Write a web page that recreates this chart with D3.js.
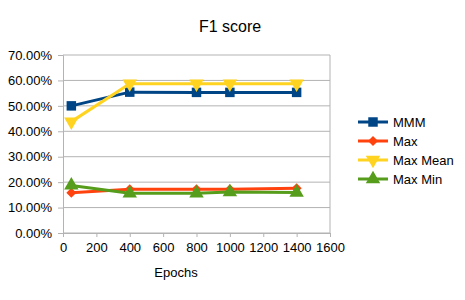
<!DOCTYPE html>
<html lang="en">
<head>
<meta charset="UTF-8">
<title>F1 score</title>
<script src="https://d3js.org/d3.v7.min.js"></script>
<style>
  body { margin: 0; background: #fff; }
  text { font-family: "Liberation Sans", Arial, sans-serif; fill: #000; }
</style>
</head>
<body>
<svg width="465" height="300" id="canvas"></svg>
<script>
    // data
    const epochs = [50, 400, 800, 1000, 1400];
    const mmm = [0.500, 0.554, 0.553, 0.553, 0.553];
    const maxV = [0.158, 0.172, 0.172, 0.172, 0.176];
    const maxMean = [0.438, 0.587, 0.587, 0.587, 0.587];
    const maxMin = [0.187, 0.156, 0.156, 0.161, 0.159];
    const yTicks = [0, 0.1, 0.2, 0.3, 0.4, 0.5, 0.6, 0.7];
    const xTicks = [0, 200, 400, 600, 800, 1000, 1200, 1400, 1600];

    const series = [
        {name: "MMM", values: mmm, color: "#004586", marker: "square"},
        {name: "Max", values: maxV, color: "#ff420e", marker: "diamond"},
        {name: "Max Mean", values: maxMean, color: "#ffd320", marker: "down"},
        {name: "Max Min", values: maxMin, color: "#579d1c", marker: "up"}
    ];

    let svg = d3.select("svg");

    const plotLeft = 63, plotRight = 330, plotTop = 55, plotBottom = 233;

    let x = d3.scaleLinear().domain([0, 1600]).range([plotLeft, plotRight]);
    let y = d3.scaleLinear().domain([0, 0.7]).range([plotBottom, plotTop]);

    // gridlines
    svg.append("g").selectAll("line")
        .data(yTicks)
        .enter()
        .append("line")
        .attr("x1", plotLeft).attr("x2", plotRight)
        .attr("y1", d => y(d)).attr("y2", d => y(d))
        .attr("stroke", "#b3b3b3").attr("stroke-width", 1);

    // right border
    svg.append("line")
        .attr("x1", plotRight).attr("x2", plotRight)
        .attr("y1", plotTop).attr("y2", plotBottom)
        .attr("stroke", "#b3b3b3");

    // axes
    let yAxis = svg.append("g")
        .attr("transform", `translate(${plotLeft},0)`)
        .call(d3.axisLeft(y).tickValues(yTicks).tickFormat(d3.format(".2%")).tickSize(5).tickPadding(6));
    let xAxis = svg.append("g")
        .attr("transform", `translate(0,${plotBottom})`)
        .call(d3.axisBottom(x).tickValues(xTicks).tickFormat(d3.format("d")).tickSize(4).tickPadding(6));

    [yAxis, xAxis].forEach(a => {
        a.select(".domain").attr("stroke", "#b3b3b3");
        a.selectAll(".tick line").attr("stroke", "#b3b3b3");
        a.selectAll("text").attr("font-size", 13).attr("fill", "#000")
            .style("font-family", "'Liberation Sans', Arial, sans-serif");
    });

    // marker shapes
    const symbols = {
        square: d3.symbol().type(d3.symbolSquare).size(90),
        diamond: d3.symbol().type(d3.symbolSquare).size(50),
        down: d3.symbol().type(d3.symbolTriangle).size(90),
        up: d3.symbol().type(d3.symbolTriangle).size(90)
    };
    function marker(sel, s) {
        let rot = s.marker === "down" ? "rotate(180)" : s.marker === "diamond" ? "rotate(45)" : null;
        sel.append("path")
            .attr("d", symbols[s.marker]())
            .attr("fill", s.color)
            .attr("transform", rot);
    }

    let line = d3.line().x(d => x(d[0])).y(d => y(d[1]));

    series.forEach(s => {
        let pts = epochs.map((e, i) => [e, s.values[i]]);
        svg.append("path")
            .datum(pts)
            .attr("d", line)
            .attr("fill", "none")
            .attr("stroke", s.color)
            .attr("stroke-width", 3)
            .attr("stroke-linejoin", "round");
        svg.append("g").selectAll("g")
            .data(pts)
            .enter()
            .append("g")
            .attr("transform", d => `translate(${x(d[0])},${y(d[1])})`)
            .each(function() { marker(d3.select(this), s); });
    });

    // title
    svg.append("text")
        .attr("x", 230).attr("y", 32)
        .attr("text-anchor", "middle")
        .attr("font-size", 16)
        .text("F1 score");

    // x axis title
    svg.append("text")
        .attr("x", 176).attr("y", 277)
        .attr("text-anchor", "middle")
        .attr("font-size", 13)
        .text("Epochs");

    // legend
    let legend = svg.append("g").selectAll("g")
        .data(series)
        .enter()
        .append("g")
        .attr("transform", (d, i) => `translate(358,${122 + i * 19})`);
    legend.append("line")
        .attr("x1", 0).attr("x2", 30)
        .attr("stroke", d => d.color)
        .attr("stroke-width", 3);
    legend.append("g")
        .attr("transform", "translate(15,0)")
        .each(function(d) { marker(d3.select(this), d); });
    legend.append("text")
        .attr("x", 35).attr("y", 5)
        .attr("font-size", 13)
        .text(d => d.name);
</script>
</body>
</html>
